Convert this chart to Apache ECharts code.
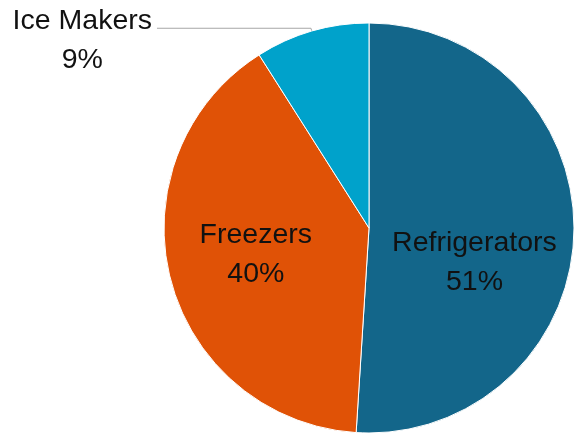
<!DOCTYPE html>
<html>
<head>
<meta charset="utf-8">
<script src="https://cdn.jsdelivr.net/npm/echarts@6/dist/echarts.min.js"></script>
<style>
  html, body { margin: 0; padding: 0; background: #fff; }
  #chart { width: 575px; height: 435px; }
</style>
</head>
<body>
<div id="chart"></div>
<script>
// Product mix, clockwise from 12 o'clock
const categories = ['Refrigerators', 'Freezers', 'Ice Makers'];
const shares = [51, 40, 9];
const colors = ['#13668A', '#E05206', '#00A2CB'];

const chart = echarts.init(document.getElementById('chart'), null, { renderer: 'canvas' });

const FONT = 'Liberation Sans';
const SIZE = 28.5;
const LH = 39;

const baseLabel = {
  fontFamily: FONT,
  fontSize: SIZE,
  lineHeight: LH,
  color: '#111',
  formatter: p => '{t|' + p.name + '}\n{t|' + p.value + '%}',
  rich: { t: { align: 'center', fontFamily: FONT, fontSize: SIZE, lineHeight: LH, color: '#111' } }
};

const data = categories.map((name, i) => {
  const item = { name, value: shares[i], itemStyle: { color: colors[i] } };
  if (name === 'Ice Makers') {
    item.label = Object.assign({}, baseLabel, {
      position: 'outside',
      distanceToLabelLine: 5,
      padding: [24, 0, 0, 0]
    });
    item.labelLine = { show: true, length: 3, length2: 154, lineStyle: { color: '#A6A6A6', width: 1 } };
  }
  return item;
});

// small nudges for the two inside labels
const labelShift = { 'Refrigerators': [0, 31], 'Freezers': [-11, 0] };

chart.setOption({
  animation: false,
  series: [{
    type: 'pie',
    center: [369, 228],
    radius: 205,
    startAngle: 90,
    clockwise: true,
    itemStyle: { borderColor: '#ffffff', borderWidth: 1 },
    label: Object.assign({ position: 'inside' }, baseLabel),
    labelLine: { show: false },
    labelLayout: function (p) {
      const s = labelShift[categories[p.dataIndex]];
      return s ? { dx: s[0], dy: s[1] } : {};
    },
    emphasis: { disabled: true },
    data
  }]
});
</script>
</body>
</html>
